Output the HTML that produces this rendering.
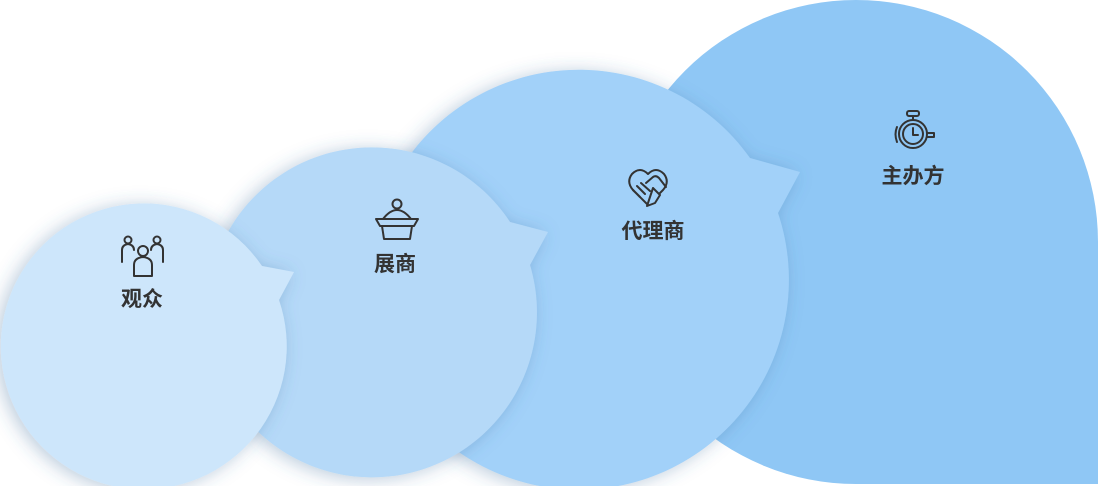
<!DOCTYPE html>
<html><head><meta charset="utf-8"><style>
html,body{margin:0;padding:0;background:#fff;width:1098px;height:486px;overflow:hidden}
svg{display:block}
text{font-family:"Liberation Sans","Noto Sans CJK SC",sans-serif;font-weight:bold;font-size:21px;fill:#333}
</style></head><body>
<svg width="1098" height="486" viewBox="0 0 1098 486">
<defs>
<filter id="sh" x="-20%" y="-20%" width="140%" height="140%">
<feDropShadow dx="-4" dy="2" stdDeviation="9" flood-color="#3a6a9a" flood-opacity="0.35"/>
</filter>
</defs>
<path d="M614,242 A242,242 0 0 1 1098,242 L1098,484 L856,484 A242,242 0 0 1 614,242 Z" fill="#8fc7f5"/>
<path d="M750,158 L800,172 L778,213 A210,210 0 1 1 750,158 Z" fill="#a2d1f9" filter="url(#sh)"/>
<path d="M510,222 L548,232 L530,265 A165,165 0 1 1 510,222 Z" fill="#b5d9f8" filter="url(#sh)"/>
<path d="M262,266 L294,272 L279,300 A143,143 0 1 1 262,266 Z" fill="#cde6fb" filter="url(#sh)"/>

<g fill="none" stroke="#333" stroke-width="2" stroke-linecap="round" stroke-linejoin="round">
<circle cx="128" cy="240" r="3.5"/><path d="M122,262 V250 Q122,245 128,244 Q134,245 134,250"/>
<circle cx="157" cy="240" r="3.5"/><path d="M163,262 V250 Q163,245 157,244 Q151,245 151,250"/>
<circle cx="143" cy="251" r="5"/><path d="M134,276 V265 Q134,258 143,257 Q152,258 152,265 V276 Z"/>
<circle cx="397" cy="204" r="4.5"/>
<path d="M383,219 Q390,210 397,210 Q404,210 411,219"/>
<path d="M376,219 H418 L414,226 H380 Z"/>
<path d="M382,226 L384,239 H410 L412,226"/>
<path d="M648,205 L633,190 Q626,182 632,174 Q640,166 648,174 Q656,166 664,174 Q670,182 663,190 L660,193"/>
<path d="M646,183 L653,177 Q656,175 659,178 L666,187"/>
<path d="M633,190 L640,197 M637,186 L645,194 M641,183 L650,191 M653,188 L660,195 L655,203 L647,206 Z"/>
<rect x="907" y="111" width="12" height="5" rx="2"/>
<path d="M913,116 V120"/>
<circle cx="913" cy="134" r="14"/>
<circle cx="913" cy="134" r="10"/>
<path d="M913,128 V135 H918"/>
<path d="M897,127 Q894,134 897,142"/>
<path d="M927,133 H934 V137 H927"/>
</g>
<text x="142" y="306" text-anchor="middle">观众</text>
<text x="395" y="271" text-anchor="middle">展商</text>
<text x="653" y="238" text-anchor="middle">代理商</text>
<text x="913" y="183" text-anchor="middle">主办方</text>
</svg>
</body></html>
